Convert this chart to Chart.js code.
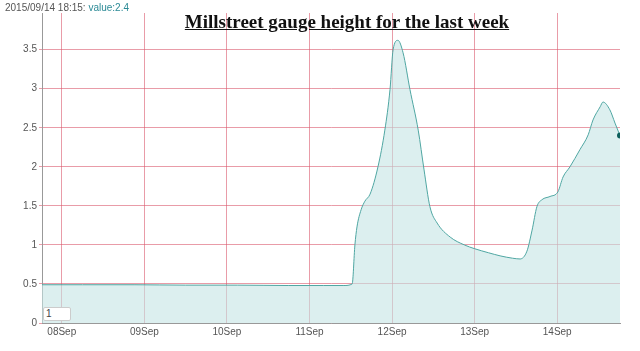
<!DOCTYPE html>
<html>
<head>
<meta charset="utf-8">
<script src="https://cdn.jsdelivr.net/npm/chart.js@4"></script>
<style>
	html, body { margin: 0; padding: 0; background: #fff; }
	#wrap { position: relative; width: 640px; height: 351px; }
	#info { position: absolute; left: 5px; top: 2px; font: 10px 'Liberation Sans', Arial, sans-serif; color: #555; }
	#info span { color: #2b8a96; }
	#title { position: absolute; left: 0; width: 694px; top: 11px; text-align: center; font: bold 19px 'Liberation Serif', 'Times New Roman', serif; color: #111; text-decoration: underline; }
	#zoomBox { position: absolute; left: 43px; top: 307px; width: 24px; height: 12px; border: 1px solid #ccc; border-radius: 2px; background: #fff; font: 10px 'Liberation Sans', Arial, sans-serif; color: #444; padding: 0 0 0 2px; line-height: 12px; }
</style>
</head>
<body>
<div id="wrap">
	<canvas id="gaugeChart" width="640" height="351"></canvas>
	<div id="info">2015/09/14 18:15: <span>value:2.4</span></div>
	<div id="title">Millstreet gauge height for the last week</div>
	<div id="zoomBox">1</div>
</div>
<script>
// ===== DATA =====
// hours counted from 07 Sep 2015 00:00
const hours = [18.25, 30, 45, 60, 75, 90, 100, 106, 108.4, 109.2, 109.8, 111, 112.1, 113.6, 115.9, 117.9, 119.4, 120.3, 121.7, 123.2, 125.2, 127.6, 129.3, 131, 133.1, 136.9, 141, 144.1, 148, 151.4, 155, 157.2, 159.2, 160.7, 162.1, 163.6, 165.9, 168.2, 169.7, 171.7, 174.6, 177, 178.4, 180.5, 181.3, 183.3, 184.8, 186.25];
const levels = [0.49, 0.49, 0.49, 0.485, 0.485, 0.48, 0.48, 0.48, 0.5, 1.0, 1.23, 1.45, 1.56, 1.65, 2.0, 2.47, 2.99, 3.5, 3.62, 3.46, 2.99, 2.47, 1.96, 1.49, 1.28, 1.1, 1.0, 0.95, 0.9, 0.86, 0.83, 0.82, 0.92, 1.19, 1.49, 1.58, 1.62, 1.68, 1.87, 2.0, 2.22, 2.41, 2.6, 2.77, 2.83, 2.73, 2.56, 2.4];

const dayHours = [24, 48, 72, 96, 120, 144, 168];
const dayLabels = ['08Sep', '09Sep', '10Sep', '11Sep', '12Sep', '13Sep', '14Sep'];
const yTicks = [0, 0.5, 1, 1.5, 2, 2.5, 3, 3.5];

// ===== CHART =====
const ctx = document.getElementById('gaugeChart').getContext('2d');
const gridRed = 'rgba(218, 90, 110, 0.6)';

new Chart(ctx, {
	type: 'line',
	data: {
		datasets: [{
			data: hours.map((h, i) => ({ x: h, y: levels[i] })),
			borderColor: '#4fa6a2',
			borderWidth: 1,
			backgroundColor: 'rgba(196, 228, 229, 0.6)',
			fill: 'origin',
			tension: 0.4,
			cubicInterpolationMode: 'monotone',
			pointRadius: hours.map((h, i) => i === hours.length - 1 ? 3 : 0),
			pointBackgroundColor: '#0e5f5c',
			pointBorderWidth: 0
		}]
	},
	options: {
		responsive: false,
		animation: false,
		layout: { padding: { left: 0, top: 13, right: 20, bottom: 0 } },
		plugins: {
			legend: { display: false },
			tooltip: { enabled: false }
		},
		scales: {
			x: {
				type: 'linear',
				min: 18.25,
				max: 186.25,
				afterBuildTicks: s => { s.ticks = dayHours.map(v => ({ value: v })); },
				afterFit: s => { s.height = 28; },
				grid: { color: gridRed, drawTicks: false },
				border: { color: '#999' },
				ticks: {
					autoSkip: false,
					maxRotation: 0,
					padding: 3,
					color: '#555',
					font: { family: 'Liberation Sans', size: 10 },
					callback: v => dayLabels[dayHours.indexOf(v)]
				}
			},
			y: {
				min: 0,
				max: 3.97,
				afterBuildTicks: s => { s.ticks = yTicks.map(v => ({ value: v })); },
				afterFit: s => { s.width = 42; },
				grid: { color: gridRed, tickLength: 3 },
				border: { color: '#999' },
				ticks: {
					padding: 2,
					color: '#555',
					font: { family: 'Liberation Sans', size: 10 },
					callback: v => String(v)
				}
			}
		}
	}
});
</script>
</body>
</html>
